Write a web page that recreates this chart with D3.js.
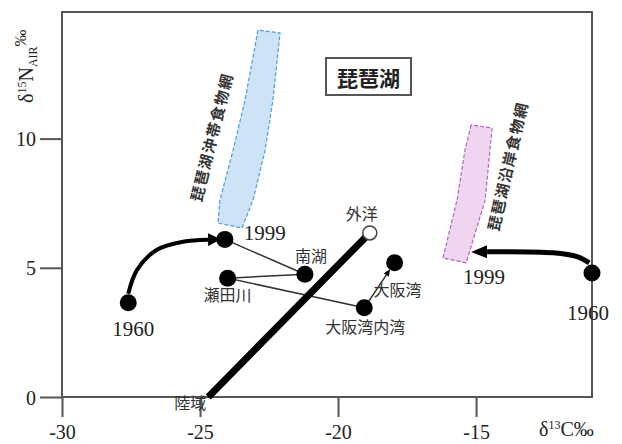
<!DOCTYPE html>
<html>
<head>
<meta charset="utf-8">
<script src="https://cdn.jsdelivr.net/npm/d3@7"></script>
<style>
  body { margin: 0; background: #fff; }
</style>
</head>
<body>
<svg id="chart" width="622" height="444"></svg>
<script>
// values: δ13C (‰) and δ15N (‰)
const siteNames = ['1960', '1999', '南湖', '瀬田川', '大阪湾内湾', '大阪湾', '外洋', '陸域', '1960 沿岸'];
const siteC = [-27.6, -24.1, -21.2, -24.0, -19.05, -17.95, -18.85, -24.7, -10.8];
const siteN = [3.65, 6.1, 4.75, 4.6, 3.45, 5.2, 6.35, 0, 4.8];

const xTicks = [-30, -25, -20, -15];
const yTicks = [0, 5, 10];

// thin path lake -> river -> bay (last leg is an arrow)
const routeNames = ['1999', '南湖', '瀬田川', '大阪湾内湾', '大阪湾'];
// thick mixing line land -> ocean
const mixNames = ['陸域', '外洋'];

// curved 1960 -> 1999 arrows
const offshoreArrowC = [-27.6, -27.28, -26.56, -25.62, -24.71];
const offshoreArrowN = [4.0, 4.92, 5.7, 6.01, 6.09];
const coastalArrowC = [-10.9, -11.34, -12.21, -14.6];
const coastalArrowN = [5.19, 5.43, 5.58, 5.62];

// food web bands (outline, going down the left edge and up the right edge)
const offshoreBandC = [-22.9, -23.37, -23.8, -24.28, -24.35, -23.48, -23.08, -22.64, -22.36, -22.1];
const offshoreBandN = [14.2, 11.49, 9.56, 7.62, 6.73, 6.54, 7.62, 9.56, 11.49, 14.09];
const coastalBandC = [-15.18, -15.4, -15.69, -16.2, -15.36, -14.67, -14.42];
const coastalBandN = [10.53, 9.56, 7.62, 5.38, 5.19, 7.62, 10.41];

const svg = d3.select('#chart');
const x = d3.scaleLinear().domain([-30, -10.8]).range([62, 592]);
const y = d3.scaleLinear().domain([0, 14.9]).range([397, 12]);

const sites = siteNames.map((d, i) => ({name: d, c: siteC[i], n: siteN[i]}));
const site = (name) => sites.find((s) => s.name === name);

const serif = '"Liberation Serif", "DejaVu Serif", serif';
const cjk = '"Noto Sans CJK JP", "Noto Sans CJK SC", sans-serif';
const axisColor = '#555';

// markers
const defs = svg.append('defs');
function marker(id, len, wid) {
  defs.append('marker')
    .attr('id', id)
    .attr('markerUnits', 'userSpaceOnUse')
    .attr('viewBox', `0 ${-wid / 2} ${len} ${wid}`)
    .attr('refX', 0)
    .attr('refY', 0)
    .attr('markerWidth', len)
    .attr('markerHeight', wid)
    .attr('orient', 'auto')
    .append('path')
    .attr('d', `M0,${-wid / 2}L${len},0L0,${wid / 2}Z`)
    .attr('fill', '#000');
}
marker('bigArrow', 13, 13);
marker('bigArrow2', 16, 13);
marker('smallArrow', 7, 6);

// frame
const frame = svg.append('g')
  .attr('stroke', axisColor)
  .attr('stroke-width', 2)
  .attr('fill', 'none');
frame.append('path')
  .attr('d', `M${x(-30)},${y(0)}V${y(14.9)}H${x(-10.8)}V${y(0)}H${x(-30)}`);

// axes
const yAxis = svg.append('g')
  .attr('transform', `translate(${x(-30)},0)`)
  .call(d3.axisLeft(y).tickValues(yTicks).tickSize(22).tickPadding(4).tickFormat(d3.format('d')));
const xAxis = svg.append('g')
  .attr('transform', `translate(0,${y(0)})`)
  .call(d3.axisBottom(x).tickValues(xTicks).tickSize(20).tickPadding(8).tickFormat((d) => d));
[xAxis, yAxis].forEach((g) => {
  g.select('.domain').remove();
  g.selectAll('.tick line').attr('stroke', axisColor).attr('stroke-width', 2);
  g.selectAll('.tick text')
    .attr('fill', '#222')
    .style('font-family', serif)
    .style('font-size', '20px');
});
yAxis.selectAll('.tick text').attr('dy', '0.35em');

// axis titles
const xTitle = svg.append('text')
  .attr('x', 539)
  .attr('y', 436)
  .attr('fill', '#222')
  .style('font-family', serif)
  .style('font-size', '20px');
xTitle.append('tspan').text('δ');
xTitle.append('tspan').attr('dy', -7).style('font-size', '12px').text('13');
xTitle.append('tspan').attr('dy', 7).text('C‰');

const yTitle = svg.append('text')
  .attr('transform', 'translate(33,103) rotate(-90)')
  .attr('fill', '#222')
  .style('font-family', serif)
  .style('font-size', '20px');
yTitle.append('tspan').text('δ');
yTitle.append('tspan').attr('dy', -7).style('font-size', '12px').text('15');
yTitle.append('tspan').attr('dy', 7).text('N');
yTitle.append('tspan').attr('dy', 4).style('font-size', '12px').text('AIR');
yTitle.append('tspan').attr('dy', -11).style('font-size', '17px').text('‰');

// bands
const bandLine = d3.line().x((d) => x(d[0])).y((d) => y(d[1])).curve(d3.curveLinearClosed);
const bands = [
  {c: offshoreBandC, n: offshoreBandN, fill: '#cfe3f6', stroke: '#4d9de0'},
  {c: coastalBandC, n: coastalBandN, fill: '#efd5f0', stroke: '#b565c2'},
];
svg.append('g')
  .selectAll('path')
  .data(bands)
  .join('path')
  .attr('d', (b) => bandLine(b.c.map((c, i) => [c, b.n[i]])))
  .attr('fill', (b) => b.fill)
  .attr('stroke', (b) => b.stroke)
  .attr('stroke-width', 1.2)
  .attr('stroke-dasharray', '4,2')
  .attr('stroke-linejoin', 'round');

// band captions (rotated)
const captions = [
  {text: '琵琶湖沖帯食物網', cx: 211, cy: 137, angle: -76},
  {text: '琵琶湖沿岸食物網', cx: 507, cy: 166, angle: -77},
];
svg.append('g')
  .selectAll('text')
  .data(captions)
  .join('text')
  .attr('transform', (d) => `translate(${d.cx},${d.cy}) rotate(${d.angle})`)
  .attr('text-anchor', 'middle')
  .attr('dominant-baseline', 'central')
  .attr('fill', '#333')
  .style('font-family', cjk)
  .style('font-weight', 'bold')
  .style('font-size', '15px')
  .style('letter-spacing', '1.5px')
  .text((d) => d.text);

// title box
const titleG = svg.append('g');
titleG.append('rect')
  .attr('x', 326).attr('y', 58).attr('width', 85).attr('height', 37)
  .attr('fill', '#fff')
  .attr('stroke', '#555')
  .attr('stroke-width', 2);
titleG.append('text')
  .attr('x', 368.5).attr('y', 77)
  .attr('text-anchor', 'middle')
  .attr('dominant-baseline', 'central')
  .attr('fill', '#222')
  .style('font-family', cjk)
  .style('font-weight', 'bold')
  .style('font-size', '21px')
  .text('琵琶湖');

// thin route lines
const route = routeNames.map(site);
const thin = svg.append('g').attr('stroke', '#333').attr('stroke-width', 1.5);
for (let i = 0; i < route.length - 2; i++) {
  thin.append('line')
    .attr('x1', x(route[i].c)).attr('y1', y(route[i].n))
    .attr('x2', x(route[i + 1].c)).attr('y2', y(route[i + 1].n));
}
{
  const a = route[route.length - 2];
  const b = route[route.length - 1];
  const x1 = x(a.c), y1 = y(a.n), x2 = x(b.c), y2 = y(b.n);
  const len = Math.hypot(x2 - x1, y2 - y1);
  const t = (len - 15) / len;
  thin.append('line')
    .attr('x1', x1).attr('y1', y1)
    .attr('x2', x1 + (x2 - x1) * t).attr('y2', y1 + (y2 - y1) * t)
    .attr('marker-end', 'url(#smallArrow)');
}

// thick mixing line
const mix = mixNames.map(site);
svg.append('line')
  .attr('x1', x(mix[0].c)).attr('y1', y(mix[0].n))
  .attr('x2', x(mix[1].c)).attr('y2', y(mix[1].n))
  .attr('stroke', '#000')
  .attr('stroke-width', 7);

// curved arrows
const curve = d3.line().x((d) => x(d[0])).y((d) => y(d[1])).curve(d3.curveCatmullRom);
svg.append('path')
  .attr('d', curve(offshoreArrowC.map((c, i) => [c, offshoreArrowN[i]])))
  .attr('fill', 'none')
  .attr('stroke', '#000')
  .attr('stroke-width', 4)
  .attr('marker-end', 'url(#bigArrow)');
svg.append('path')
  .attr('d', curve(coastalArrowC.map((c, i) => [c, coastalArrowN[i]])))
  .attr('fill', 'none')
  .attr('stroke', '#000')
  .attr('stroke-width', 5)
  .attr('marker-end', 'url(#bigArrow2)');

// points
const dots = sites.filter((s) => s.name !== '陸域');
svg.append('g')
  .selectAll('circle')
  .data(dots)
  .join('circle')
  .attr('cx', (d) => x(d.c))
  .attr('cy', (d) => y(d.n))
  .attr('r', (d) => (d.name === '外洋' ? 7 : 8.5))
  .attr('fill', (d) => (d.name === '外洋' ? '#fff' : '#000'))
  .attr('stroke', (d) => (d.name === '外洋' ? '#444' : 'none'))
  .attr('stroke-width', 1.5);

// point labels: offsets from their point in pixels
const labelOffsets = {
  '1960': {text: '1960', dx: 5, dy: 26, serif: true},
  '1999': {text: '1999', dx: 40, dy: -6, serif: true},
  '南湖': {text: '南湖', dx: 6, dy: -19},
  '瀬田川': {text: '瀬田川', dx: 0, dy: 16},
  '大阪湾内湾': {text: '大阪湾内湾', dx: 1, dy: 18},
  '大阪湾': {text: '大阪湾', dx: 3, dy: 26},
  '外洋': {text: '外洋', dx: -8, dy: -20},
  '陸域': {text: '陸域', dx: -18, dy: 5},
  '1960 沿岸': {text: '1960', dx: -4, dy: 40, serif: true},
};
const labels = sites.map((s) => ({...labelOffsets[s.name], px: x(s.c), py: y(s.n)}));
// 1999 beside the coastal arrow head
const last = coastalArrowC.length - 1;
labels.push({text: '1999', dx: 16, dy: 25, serif: true, px: x(coastalArrowC[last]) - 19, py: y(coastalArrowN[last])});

svg.append('g')
  .selectAll('text')
  .data(labels)
  .join('text')
  .attr('x', (d) => d.px + d.dx)
  .attr('y', (d) => d.py + d.dy)
  .attr('text-anchor', 'middle')
  .attr('dominant-baseline', 'central')
  .attr('fill', (d) => (d.serif ? '#222' : '#333'))
  .style('font-family', (d) => (d.serif ? serif : cjk))
  .style('font-size', (d) => (d.serif ? '21px' : '16px'))
  .text((d) => d.text);
</script>
</body>
</html>
